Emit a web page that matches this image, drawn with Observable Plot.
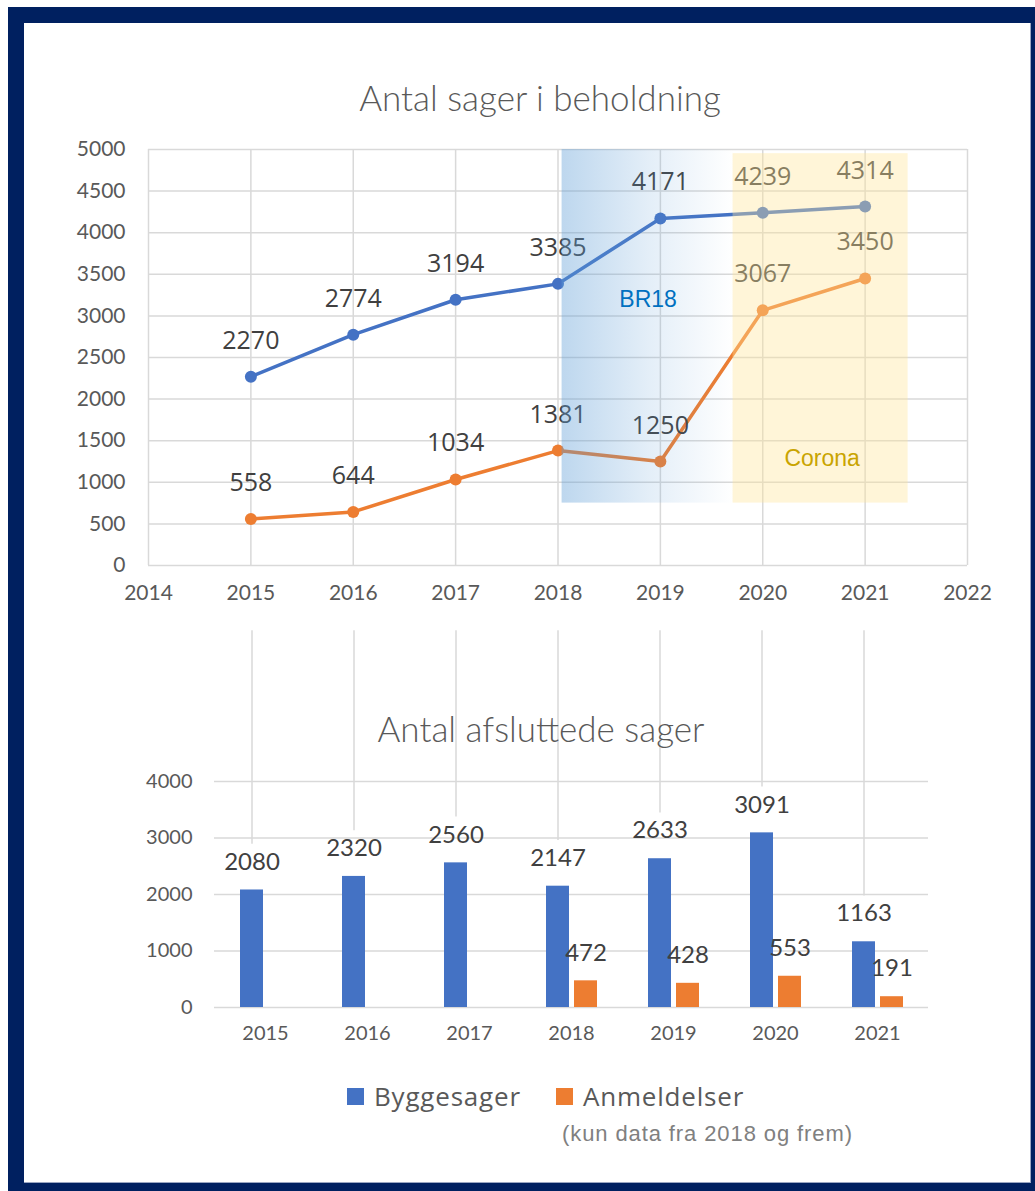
<!DOCTYPE html>
<html><head><meta charset="utf-8">
<script src="https://cdn.jsdelivr.net/npm/d3@7"></script>
<script src="https://cdn.jsdelivr.net/npm/@observablehq/plot@0.6"></script>
<style>
html,body{margin:0;padding:0;background:#fff;overflow:hidden;}
#page{position:relative;width:1035px;height:1191px;}
#frame{position:absolute;left:8px;top:7px;width:1027px;height:1184px;background:#002060;}
#inner{position:absolute;left:24px;top:23px;width:1006px;height:1159px;background:#fff;border-right:1px solid #9aa6c2;border-bottom:1px solid #9aa6c2;}
.title{position:absolute;font-family:Lato,sans-serif;font-weight:300;color:#595959;text-align:center;white-space:nowrap;font-size:35px;line-height:40px;}
.chart{position:absolute;left:0;}
.leg{position:absolute;font-family:"Open Sans",sans-serif;font-size:26px;letter-spacing:0.8px;color:#595959;line-height:30px;white-space:nowrap;}
.sq{position:absolute;width:17px;height:17px;}
#note{position:absolute;font-family:"Liberation Sans",Arial,sans-serif;font-size:22px;letter-spacing:0.9px;color:#808080;white-space:nowrap;line-height:24px;}
</style></head>
<body>
<div id="page">
  <div id="frame"></div>
  <div id="inner"></div>
  <div id="chart1" class="chart" style="top:110px"></div>
  <div id="chart2" class="chart" style="top:615px"></div>
  <div class="title" style="left:40px;width:1000px;top:77px">Antal sager i beholdning</div>
  <div class="title" style="left:41px;width:1000px;top:708px">Antal afsluttede sager</div>
  <div id="legend"></div>
  <div id="note" style="left:562px;top:1122px">(kun data fra 2018 og frem)</div>
</div>
<script>
// ---- data ----
const years = [2015, 2016, 2017, 2018, 2019, 2020, 2021];
const seriesNames = ["Byggesager", "Anmeldelser"];
const seriesColors = ["#4472C4", "#ED7D31"];

// Antal sager i beholdning
const beholdningByggesager = [2270, 2774, 3194, 3385, 4171, 4239, 4314];
const beholdningAnmeldelser = [558, 644, 1034, 1381, 1250, 3067, 3450];
const topXTicks = [2014, 2015, 2016, 2017, 2018, 2019, 2020, 2021, 2022];
const topYTicks = [0, 500, 1000, 1500, 2000, 2500, 3000, 3500, 4000, 4500, 5000];

// annotation bands
const bandNames = ["BR18", "Corona"];
const bandX1 = [2018.04, 2019.71];
const bandX2 = [2019.72, 2021.42];
const bandY1 = [750, 750];
const bandY2 = [5000, 4950];
const bandLabelX = [2018.88, 2020.58];
const bandLabelY = [3200, 1290];
const bandLabelColors = ["#0070C0", "#C9A400"];

// Antal afsluttede sager
const afsluttedeByggesager = [2080, 2320, 2560, 2147, 2633, 3091, 1163];
const afsluttedeAnmeldelser = [null, null, null, 472, 428, 553, 191];
const bottomYTicks = [0, 1000, 2000, 3000, 4000];

// ---- build tables ----
const topData = years.flatMap((yr, i) => [
  {year: yr, value: beholdningByggesager[i], series: seriesNames[0]},
  {year: yr, value: beholdningAnmeldelser[i], series: seriesNames[1]}
]);
const bottomData = years.flatMap((yr, i) => {
  const rows = [{year: yr, value: afsluttedeByggesager[i], series: seriesNames[0]}];
  if (afsluttedeAnmeldelser[i] != null) rows.push({year: yr, value: afsluttedeAnmeldelser[i], series: seriesNames[1]});
  return rows;
});
const bottomByg = bottomData.filter(d => d.series === seriesNames[0]);

const grid = "#d9d9d9";
const tickFont = "Lato, sans-serif";
const plain = d => String(d);

const gradientDefs = () => {
  const defs = d3.create("svg:defs");
  const g = defs.append("linearGradient").attr("id", "br18grad")
    .attr("x1", "0").attr("x2", "1").attr("y1", "0").attr("y2", "0");
  g.append("stop").attr("offset", "0%").attr("stop-color", "#5B9BD5").attr("stop-opacity", 0.4);
  g.append("stop").attr("offset", "50%").attr("stop-color", "#5B9BD5").attr("stop-opacity", 0.17);
  g.append("stop").attr("offset", "100%").attr("stop-color", "#5B9BD5").attr("stop-opacity", 0);
  return defs.node();
};

const bandIdx = [0, 1];

const chartTop = Plot.plot({
  width: 1035, height: 500,
  marginLeft: 148, marginRight: 68, marginTop: 39, marginBottom: 45,
  style: {fontFamily: tickFont, fontSize: "21px", color: "#595959", background: "transparent", overflow: "visible"},
  x: {domain: [2014, 2022], ticks: topXTicks, tickFormat: plain, tickSize: 0, tickPadding: 20, label: null},
  y: {domain: [0, 5000], ticks: topYTicks, tickFormat: plain, tickSize: 0, tickPadding: 23, label: null},
  color: {domain: seriesNames, range: seriesColors},
  marks: [
    gradientDefs,
    Plot.ruleY(topYTicks, {stroke: grid, strokeWidth: 1.5}),
    Plot.ruleX(topXTicks, {stroke: grid, strokeWidth: 1.5}),
    Plot.line(topData, {x: "year", y: "value", z: "series", stroke: "series", strokeWidth: 3.5}),
    Plot.dot(topData, {x: "year", y: "value", fill: "series", r: 6}),
    Plot.text(topData, {x: "year", y: "value", text: d => String(d.value), dy: -36,
      fill: "#404040", fontSize: 25, fontFamily: "'Open Sans', sans-serif"}),
    Plot.rect([0], {x1: () => bandX1[0], x2: () => bandX2[0], y1: () => bandY1[0], y2: () => bandY2[0], fill: "url(#br18grad)"}),
    Plot.rect([1], {x1: () => bandX1[1], x2: () => bandX2[1], y1: () => bandY1[1], y2: () => bandY2[1], fill: "#FFE699", fillOpacity: 0.38}),
    Plot.text(bandIdx, {x: i => bandLabelX[i], y: i => bandLabelY[i], text: i => bandNames[i],
      fill: i => bandLabelColors[i], fontSize: 23, fontFamily: "'Liberation Sans', Arial, sans-serif"})
  ]
});
document.getElementById("chart1").append(chartTop);

const gridTop = 6670;     // where the light vertical rules start (data units)
const labelClear = 810;   // gap kept above the bar tops (data units)

const chartBottom = Plot.plot({
  width: 1035, height: 437,
  marginLeft: 212, marginRight: 106, marginTop: 166, marginBottom: 45,
  style: {fontFamily: tickFont, fontSize: "20px", color: "#595959", background: "transparent", overflow: "visible"},
  fx: {domain: years, padding: 0, label: null, axis: "bottom", tickSize: 0, tickPadding: 18, tickFormat: plain},
  x: {domain: seriesNames, paddingInner: 0.193, paddingOuter: 0.893, axis: null},
  y: {domain: [0, 4000], ticks: bottomYTicks, tickFormat: plain, tickSize: 0, tickPadding: 22, label: null},
  color: {domain: seriesNames, range: seriesColors},
  marks: [
    Plot.ruleY(bottomYTicks, {stroke: grid, strokeWidth: 1.5}),
    Plot.ruleX(bottomByg, {fx: "year", x: "series", y1: () => gridTop, y2: d => d.value + labelClear, stroke: grid, strokeWidth: 1.5}),
    Plot.barY(bottomData, {fx: "year", x: "series", y: "value", fill: "series"}),
    Plot.text(bottomData, {fx: "year", x: "series", y: "value", text: d => String(d.value), dy: -28,
      fill: "#404040", fontSize: 24, fontFamily: tickFont})
  ]
});
document.getElementById("chart2").append(chartBottom);

// legend
const legendBox = document.getElementById("legend");
const legX = [347, 556];
seriesNames.forEach((name, i) => {
  const sq = document.createElement("div");
  sq.className = "sq";
  sq.style.left = legX[i] + "px"; sq.style.top = "1088px"; sq.style.background = seriesColors[i];
  legendBox.append(sq);
  const t = document.createElement("div");
  t.className = "leg";
  t.style.left = (legX[i] + 27) + "px"; t.style.top = "1081px";
  t.textContent = name;
  legendBox.append(t);
});
</script>
</body></html>
